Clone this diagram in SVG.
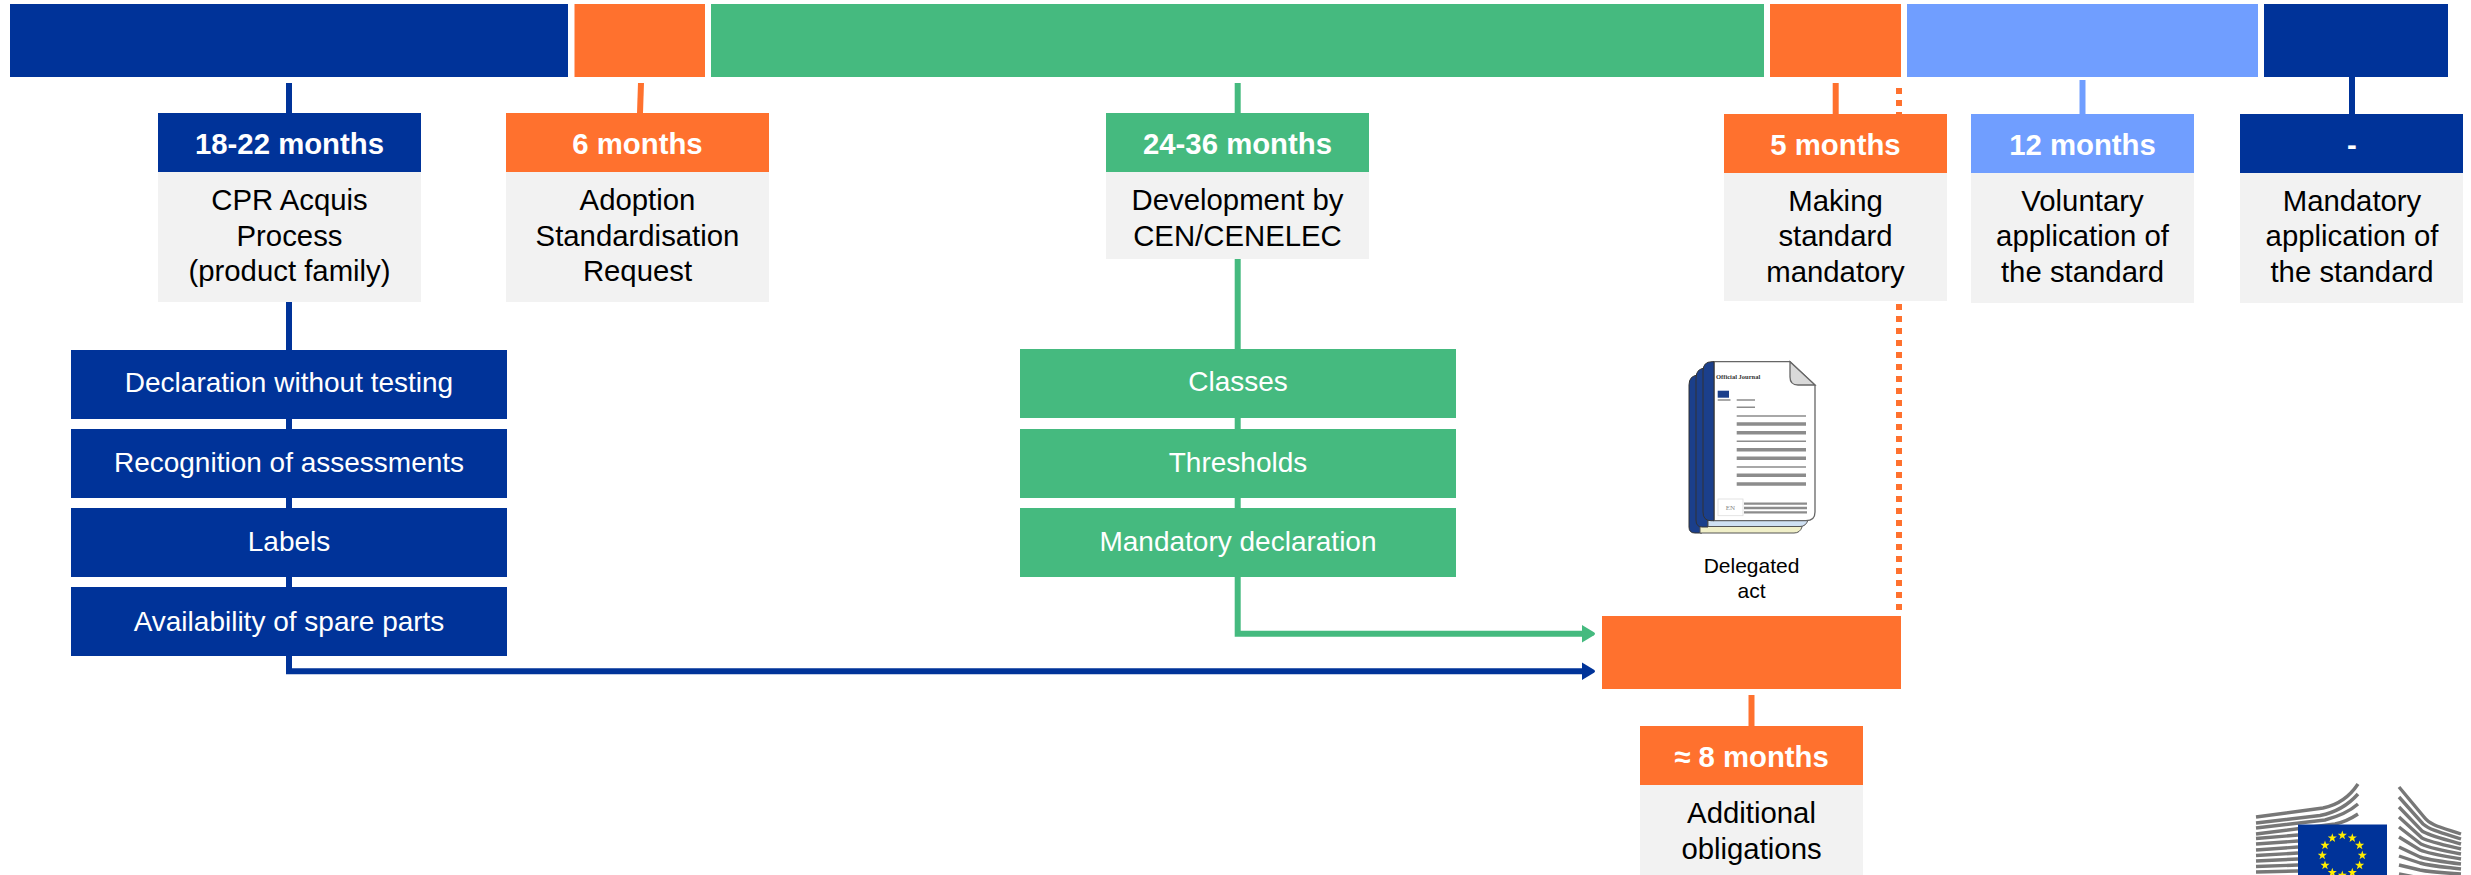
<svg xmlns="http://www.w3.org/2000/svg" width="2471" height="875" viewBox="0 0 2471 875">
<defs>
<marker id="ahG" markerUnits="userSpaceOnUse" markerWidth="16" markerHeight="20" refX="2" refY="9" orient="auto"><path d="M0 0.3L12 7.5Q14 9 12 10.5L0 17.7Z" fill="#45BA7F"/></marker>
<marker id="ahN" markerUnits="userSpaceOnUse" markerWidth="16" markerHeight="20" refX="2" refY="9" orient="auto"><path d="M0 0.3L12 7.5Q14 9 12 10.5L0 17.7Z" fill="#003399"/></marker>
<clipPath id="flagClip"><rect x="2298" y="824.5" width="89" height="50.5"/></clipPath>
</defs>
<style>
text{font-family:"Liberation Sans",Arial,sans-serif;text-anchor:middle}
.hd{font-size:29.33px;font-weight:700;fill:#fff}
.bd{font-size:29.33px;fill:#000}
.li{font-size:28px;fill:#fff}
.gray{fill:#F2F2F2}
.n{fill:#003399}.o{fill:#FF712E}.g{fill:#45BA7F}.b{fill:#709EFF}
.c{fill:none;stroke-width:6}
.cn{stroke:#003399}.co{stroke:#FF712E}.cg{stroke:#45BA7F}.cb{stroke:#709EFF}
.ln{stroke:#8C8C8C;fill:none}
.st{fill:none;stroke:#777;stroke-width:3.4}
</style>
<g id="connectors">
<path class="c cn" d="M289 83V113"/>
<path class="c cn" d="M289 302V671.3H1584" marker-end="url(#ahN)"/>
<path class="c co" d="M641 83L640 113"/>
<path class="c cg" d="M1237.7 83V113"/>
<path class="c cg" d="M1237.7 259V633.7H1584" marker-end="url(#ahG)"/>
<path class="c co" d="M1835.7 83V114"/>
<path class="c co" d="M1899 88V611" stroke-dasharray="6 6"/>
<path class="c cb" d="M2082.5 80V114"/>
<path class="c cn" d="M2352 77V114"/>
<path class="c co" d="M1751.5 695V726"/>
</g>
<g id="bar-1"><rect class="n" x="10" y="4" width="558" height="73"/></g>
<g id="bar-2"><rect class="o" x="574.5" y="4" width="130.5" height="73"/></g>
<g id="bar-3"><rect class="g" x="711" y="4" width="1053" height="73"/></g>
<g id="bar-4"><rect class="o" x="1770" y="4" width="131" height="73"/></g>
<g id="bar-5"><rect class="b" x="1907" y="4" width="351" height="73"/></g>
<g id="bar-6"><rect class="n" x="2264" y="4" width="184" height="73"/></g>
<g id="step-cpr">
<rect class="gray" x="158" y="172" width="263" height="130"/><rect class="n" x="158" y="113" width="263" height="59"/>
<text class="hd" x="289.500" y="153.500">18-22 months</text>
<text class="bd" x="289.500" y="210">CPR Acquis</text><text class="bd" x="289.500" y="245.500">Process</text><text class="bd" x="289.500" y="281">(product family)</text>
</g>
<g id="step-adoption">
<rect class="gray" x="506" y="172" width="263" height="130"/><rect class="o" x="506" y="113" width="263" height="59"/>
<text class="hd" x="637.500" y="153.500">6 months</text>
<text class="bd" x="637.500" y="210">Adoption</text><text class="bd" x="637.500" y="245.500">Standardisation</text><text class="bd" x="637.500" y="281">Request</text>
</g>
<g id="step-development">
<rect class="gray" x="1106" y="172" width="263" height="87"/><rect class="g" x="1106" y="113" width="263" height="59"/>
<text class="hd" x="1237.500" y="153.500">24-36 months</text>
<text class="bd" x="1237.500" y="210">Development by</text><text class="bd" x="1237.500" y="245.500">CEN/CENELEC</text>
</g>
<g id="step-making">
<rect class="gray" x="1724" y="173" width="223" height="128"/><rect class="o" x="1724" y="114" width="223" height="59"/>
<text class="hd" x="1835.500" y="154.500">5 months</text>
<text class="bd" x="1835.500" y="211">Making</text><text class="bd" x="1835.500" y="246">standard</text><text class="bd" x="1835.500" y="282">mandatory</text>
</g>
<g id="step-voluntary">
<rect class="gray" x="1971" y="173" width="223" height="130"/><rect class="b" x="1971" y="114" width="223" height="59"/>
<text class="hd" x="2082.500" y="154.500">12 months</text>
<text class="bd" x="2082.500" y="211">Voluntary</text><text class="bd" x="2082.500" y="246">application of</text><text class="bd" x="2082.500" y="282">the standard</text>
</g>
<g id="step-mandatory">
<rect class="gray" x="2240" y="173" width="223" height="130"/><rect class="n" x="2240" y="114" width="223" height="59"/>
<text class="hd" x="2352" y="154.500">-</text>
<text class="bd" x="2352" y="211">Mandatory</text><text class="bd" x="2352" y="246">application of</text><text class="bd" x="2352" y="282">the standard</text>
</g>
<g id="list-navy">
<rect class="n" x="71" y="350" width="436" height="69"/><text class="li" x="289" y="392">Declaration without testing</text>
<rect class="n" x="71" y="429" width="436" height="69"/><text class="li" x="289" y="471.500">Recognition of assessments</text>
<rect class="n" x="71" y="508" width="436" height="69"/><text class="li" x="289" y="551">Labels</text>
<rect class="n" x="71" y="587" width="436" height="69"/><text class="li" x="289" y="630.500">Availability of spare parts</text>
</g>
<g id="list-green">
<rect class="g" x="1020" y="349" width="436" height="69"/><text class="li" x="1238" y="391">Classes</text>
<rect class="g" x="1020" y="429" width="436" height="69"/><text class="li" x="1238" y="471.500">Thresholds</text>
<rect class="g" x="1020" y="508" width="436" height="69"/><text class="li" x="1238" y="551">Mandatory declaration</text>
</g>
<g id="delegated-act">
<path d="M1689 527V385Q1689 375 1699 375H1702V533H1695Q1689 533 1689 527Z" fill="#1B3F8B" stroke="#333" stroke-width="1"/>
<path d="M1700 525H1802V527Q1800 533 1794 533H1700Z" fill="#F0EFC8" stroke="#555" stroke-width="1"/>
<path d="M1696 520V378Q1696 368 1706 368H1708V527H1702Q1696 527 1696 520Z" fill="#1B3F8B" stroke="#333" stroke-width="1"/>
<path d="M1708 518H1808V520Q1806 526.500 1800 526.500H1708Z" fill="#CFE0F2" stroke="#555" stroke-width="1"/>
<path d="M1714 361.700H1790L1815 385V512Q1815 520.700 1806 520.700H1714Z" fill="#fff" stroke="#666" stroke-width="1.300"/>
<path d="M1703 512V371Q1703 361.700 1712 361.700H1714V520.700H1711Q1703 520.700 1703 512Z" fill="#1B3F8B" stroke="#333" stroke-width="1"/>
<path d="M1790 361.700V377Q1790 385 1798 385H1815Z" fill="#D9D9D9" stroke="#666" stroke-width="1.300"/>
<text x="1716" y="379" style="font-family:'Liberation Serif',serif;font-size:6.500px;font-weight:700;text-anchor:start;fill:#333">Official Journal</text>
<rect x="1717.700" y="390.700" width="11.300" height="7" fill="#1B3F8B"/>
<g class="ln">
<path stroke-width="1.500" d="M1717.700 400H1730.500M1736.700 400H1755M1736.700 407.300H1755M1736.700 416H1806M1736.700 441.300H1806M1736.700 467H1806"/>
<path stroke-width="3.500" d="M1736.700 424H1806M1736.700 432.700H1806M1736.700 449.700H1806M1736.700 458.300H1806M1736.700 475.300H1806M1736.700 484H1806"/>
<path stroke-width="2.300" d="M1744 503.700H1807M1744 508H1807M1744 512.300H1807"/>
</g>
<rect x="1718" y="499" width="25" height="16.700" fill="#fff" stroke="#DDD" stroke-width="0.800"/>
<text x="1730.500" y="510" style="font-family:'Liberation Serif',serif;font-size:7px;fill:#888">EN</text>
<text x="1751.500" y="572.500" style="font-size:21px;fill:#000">Delegated</text>
<text x="1751.500" y="598" style="font-size:21px;fill:#000">act</text>
</g>
<g id="additional">
<rect class="o" x="1602" y="616" width="299" height="73"/>
<rect class="gray" x="1640" y="785" width="223" height="90"/><rect class="o" x="1640" y="726" width="223" height="59"/>
<text class="hd" x="1751.500" y="767">≈ 8 months</text>
<text class="bd" x="1751.500" y="823">Additional</text><text class="bd" x="1751.500" y="858.500">obligations</text>
</g>
<g id="ec-logo">
<path class="st" d="M2256 817L2323 808C2338 805 2350 796 2358 784"/>
<path class="st" d="M2256 823L2320 815.500C2338 812 2350 803 2358 794"/>
<path class="st" d="M2256 828L2325 820C2340 816 2350 811 2358 804"/>
<path class="st" d="M2256 834L2335 824C2345 822 2352 818 2358 814"/>
<path class="st" d="M2256 838.500L2298 835M2256 844L2298 841M2256 850L2298 847M2256 855.500L2298 853M2256 861L2298 859M2256 866.500L2298 865M2256 872L2298 871"/>
<path class="st" d="M2399 787L2424 817C2430 825 2440 827 2461 834"/>
<path class="st" d="M2399 797L2423 824C2430 830 2442 833 2461 839"/>
<path class="st" d="M2399 807L2422 831C2430 836 2444 839 2461 844"/>
<path class="st" d="M2399 817L2422 838C2430 842 2444 845 2461 849"/>
<path class="st" d="M2399 827L2421 844C2430 848 2444 851 2461 854"/>
<path class="st" d="M2399 837L2420 850C2430 854 2444 856 2461 859"/>
<path class="st" d="M2399 847L2420 857C2430 860 2444 862 2461 864"/>
<path class="st" d="M2399 856L2420 863C2430 866 2444 867 2461 869"/>
<path class="st" d="M2399 865L2420 870C2430 872 2444 873 2461 874"/>
<path class="st" d="M2399 874L2420 878"/>
<rect x="2298" y="824.500" width="89" height="50.500" fill="#003399"/>
<g clip-path="url(#flagClip)" fill="#FFED00">
<path d="M2342.300 830.500l1.100 3.300h3.500l-2.800 2.100 1 3.400-2.800-2-2.800 2 1-3.400-2.800-2.100h3.500z"/>
<path d="M2352.300 833.200l1.100 3.300h3.500l-2.800 2.100 1 3.400-2.800-2-2.800 2 1-3.400-2.800-2.100h3.500z"/>
<path d="M2359.600 840.500l1.100 3.300h3.500l-2.800 2.100 1 3.400-2.800-2-2.800 2 1-3.400-2.800-2.100h3.500z"/>
<path d="M2362.300 850.500l1.100 3.300h3.500l-2.800 2.100 1 3.400-2.800-2-2.800 2 1-3.400-2.800-2.100h3.500z"/>
<path d="M2359.600 860.500l1.100 3.300h3.500l-2.800 2.100 1 3.400-2.800-2-2.800 2 1-3.400-2.800-2.100h3.500z"/>
<path d="M2352.300 867.800l1.100 3.300h3.500l-2.800 2.100 1 3.400-2.800-2-2.800 2 1-3.400-2.800-2.100h3.500z"/>
<path d="M2342.300 870.500l1.100 3.300h3.500l-2.800 2.100 1 3.400-2.800-2-2.800 2 1-3.400-2.800-2.100h3.500z"/>
<path d="M2332.300 867.800l1.100 3.300h3.500l-2.800 2.100 1 3.400-2.800-2-2.800 2 1-3.400-2.800-2.100h3.500z"/>
<path d="M2325 860.500l1.100 3.300h3.500l-2.800 2.100 1 3.400-2.800-2-2.800 2 1-3.400-2.800-2.100h3.500z"/>
<path d="M2322.300 850.500l1.100 3.300h3.500l-2.800 2.100 1 3.400-2.800-2-2.800 2 1-3.400-2.800-2.100h3.500z"/>
<path d="M2325 840.500l1.100 3.300h3.500l-2.800 2.100 1 3.400-2.800-2-2.800 2 1-3.400-2.800-2.100h3.500z"/>
<path d="M2332.300 833.200l1.100 3.300h3.500l-2.800 2.100 1 3.400-2.800-2-2.800 2 1-3.400-2.800-2.100h3.500z"/>
</g>
</g>
</svg>
